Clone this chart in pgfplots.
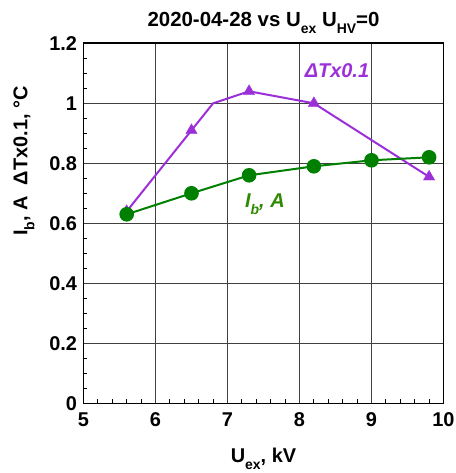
\documentclass[border=0pt]{standalone}
\usepackage{fontspec}
\setmainfont{Liberation Sans}
\usepackage{pgfplots}
\pgfplotsset{compat=1.18}
\definecolor{grn}{HTML}{008000}
\definecolor{grnlab}{HTML}{2E8A00}
\definecolor{purp}{HTML}{9B30D9}
\newcommand\sbs[1]{\raisebox{-7bp}{\fontsize{14}{14}\selectfont #1}}
\begin{document}
\begin{tikzpicture}
\begin{axis}[
  scale only axis, width=360bp, height=360bp,
  xmin=5, xmax=10, ymin=0, ymax=1.2,
  xtick={5,6,7,8,9,10}, ytick={0,0.2,0.4,0.6,0.8,1,1.2},
  yticklabels={0,0.2,0.4,0.6,0.8,1,1.2},
  minor x tick num=4, minor y tick num=3,
  tick pos=left, tick align=inside,
  major tick length=0pt, minor tick length=4bp,
  grid=major,
  major grid style={black!75, line width=0.9bp},
  axis line style={black, line width=1.6bp},
  every tick/.style={black, line width=0.8bp},
  /pgf/number format/assume math mode=true,
  tick label style={font=\fontsize{20}{22}\selectfont\bfseries},
  xticklabel style={yshift=-6bp},
  yticklabel style={xshift=-3bp},
  label style={font=\fontsize{20}{24}\selectfont\bfseries},
  title style={font=\fontsize{20.5}{24}\selectfont\bfseries, yshift=0bp},
  title={2020-04-28 vs U\sbs{ex} U\sbs{HV}=0},
  xlabel={U\sbs{ex}, kV},
  xlabel style={at={(axis description cs:0.5,-0.115)}, anchor=north},
  ylabel={I\sbs{b}, A\ \ ΔTx0.1, °C},
  ylabel style={at={(axis description cs:-0.165,0.673)}, anchor=center},
  clip=false,
]
% purple line
\addplot[purp, line width=2bp, no marks] coordinates {
  (5.6,0.64) (6.8,1.0) (7.3,1.04) (8.2,1.0) (9.8,0.755)
};
% purple markers
\addplot[purp, only marks, mark=triangle*, mark size=6.5bp] coordinates {
  (5.6,0.64) (6.5,0.91) (7.3,1.04) (8.2,1.0) (9.0,0.81) (9.8,0.755)
};
% green
\addplot[grn, line width=2bp, mark=*, mark size=6.3bp, mark options={fill=grn, draw=grn}] coordinates {
  (5.6,0.63) (6.5,0.70) (7.3,0.76) (8.2,0.79) (9.0,0.81) (9.8,0.82)
};
\node[purp, font=\fontsize{20}{24}\selectfont\bfseries\itshape] at (axis cs:8.52,1.11) {ΔTx0.1};
\node[grnlab, font=\fontsize{20}{24}\selectfont\bfseries\itshape] at (axis cs:7.52,0.665) {I\sbs{b}, A};
\coordinate (sw) at (rel axis cs:0,0);
\coordinate (ne) at (rel axis cs:1,1);
\end{axis}
\pgfresetboundingbox
\path[use as bounding box] ([xshift=-83.5bp,yshift=-69.7bp]sw) rectangle ([xshift=12.5bp,yshift=43.3bp]ne);
\end{tikzpicture}
\end{document}
